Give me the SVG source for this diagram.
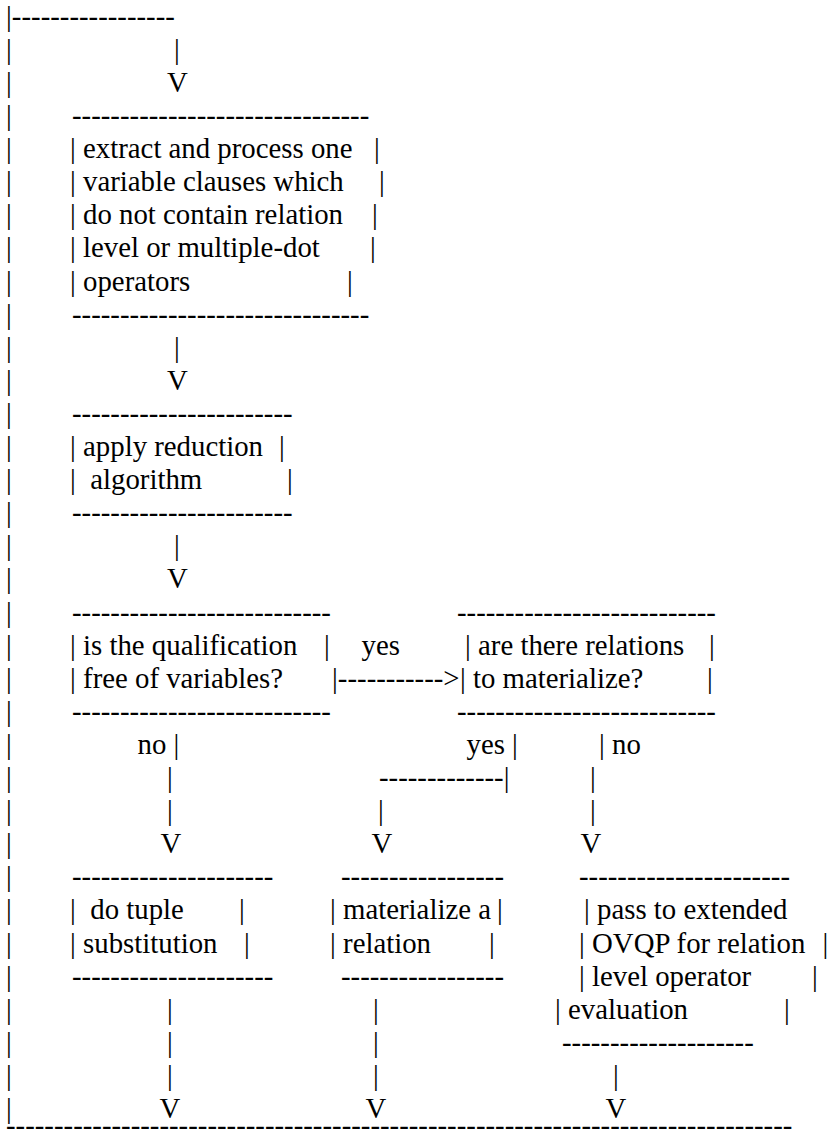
<svg xmlns="http://www.w3.org/2000/svg" width="829" height="1142" viewBox="0 0 829 1142" xml:space="preserve">
<style>
text{font-family:"Liberation Serif","Times New Roman",serif;font-size:28.8px;fill:#000;white-space:pre}
</style>
<rect width="829" height="1142" fill="#fff"/>
<g id="connectors">
<text x="6.1" y="25.7">|-----------------</text>
<text><tspan x="6.1" y="58.8">|</tspan><tspan x="6.1" y="91.9">|</tspan><tspan x="6.1" y="125">|</tspan><tspan x="6.1" y="158.1">|</tspan><tspan x="6.1" y="191.2">|</tspan><tspan x="6.1" y="224.3">|</tspan><tspan x="6.1" y="257.4">|</tspan><tspan x="6.1" y="290.5">|</tspan><tspan x="6.1" y="323.6">|</tspan><tspan x="6.1" y="356.7">|</tspan><tspan x="6.1" y="389.8">|</tspan><tspan x="6.1" y="422.9">|</tspan><tspan x="6.1" y="456">|</tspan><tspan x="6.1" y="489.1">|</tspan><tspan x="6.1" y="522.2">|</tspan><tspan x="6.1" y="555.3">|</tspan><tspan x="6.1" y="588.4">|</tspan><tspan x="6.1" y="621.5">|</tspan><tspan x="6.1" y="654.6">|</tspan><tspan x="6.1" y="687.7">|</tspan><tspan x="6.1" y="720.8">|</tspan><tspan x="6.1" y="753.9">|</tspan><tspan x="6.1" y="787">|</tspan><tspan x="6.1" y="820.1">|</tspan><tspan x="6.1" y="853.2">|</tspan><tspan x="6.1" y="886.3">|</tspan><tspan x="6.1" y="919.4">|</tspan><tspan x="6.1" y="952.5">|</tspan><tspan x="6.1" y="985.6">|</tspan><tspan x="6.1" y="1018.7">|</tspan><tspan x="6.1" y="1051.8">|</tspan><tspan x="6.1" y="1084.9">|</tspan><tspan x="6.1" y="1118">|</tspan></text>
<text x="6" y="1135">----------------------------------------------------------------------------------</text>
<text x="174.1" y="58.8">|</text>
<text x="167.1" y="91.9">V</text>
<text x="174.1" y="356.7">|</text>
<text x="167.1" y="389.8">V</text>
<text x="174.1" y="555.3">|</text>
<text x="167.1" y="588.4">V</text>
<text x="361.5" y="654.6">yes</text>
<text x="332.1" y="687.7">|-----------&gt;</text>
<text x="137.5" y="753.9">no |</text>
<text x="466.5" y="753.9">yes |</text>
<text x="599.1" y="753.9">| no</text>
<text x="167.1" y="787">|</text>
<text x="379" y="787">-------------|</text>
<text x="590.1" y="787">|</text>
<text x="167.1" y="820.1">|</text>
<text x="378.1" y="820.1">|</text>
<text x="590.1" y="820.1">|</text>
<text x="160.6" y="853.2">V</text>
<text x="371.6" y="853.2">V</text>
<text x="580.6" y="853.2">V</text>
<text x="167.1" y="1018.7">|</text>
<text x="373.1" y="1018.7">|</text>
<text x="167.1" y="1051.8">|</text>
<text x="373.1" y="1051.8">|</text>
<text x="167.1" y="1084.9">|</text>
<text x="373.1" y="1084.9">|</text>
<text x="613.1" y="1084.9">|</text>
<text x="159.6" y="1118">V</text>
<text x="365.6" y="1118">V</text>
<text x="605.6" y="1118">V</text>
</g>
<g id="extract">
<text x="72" y="125">-------------------------------</text>
<text x="70.1" y="158.1">| extract and process one</text><text x="374.1" y="158.1">|</text>
<text x="70.1" y="191.2">| variable clauses which</text><text x="379.1" y="191.2">|</text>
<text x="70.1" y="224.3">| do not contain relation</text><text x="372.1" y="224.3">|</text>
<text x="70.1" y="257.4">| level or multiple-dot</text><text x="370.1" y="257.4">|</text>
<text x="70.1" y="290.5">| operators</text><text x="347.1" y="290.5">|</text>
<text x="72" y="323.6">-------------------------------</text>
</g>
<g id="reduction">
<text x="72" y="422.9">-----------------------</text>
<text x="70.1" y="456">| apply reduction</text><text x="279" y="456">|</text>
<text x="70.1" y="489.1">|  algorithm</text><text x="287" y="489.1">|</text>
<text x="72" y="522.2">-----------------------</text>
</g>
<g id="qualification">
<text x="72" y="621.5">---------------------------</text>
<text x="70.1" y="654.6">| is the qualification</text><text x="324.1" y="654.6">|</text>
<text x="70.1" y="687.7">| free of variables?</text>
<text x="72" y="720.8">---------------------------</text>
</g>
<g id="relations">
<text x="457" y="621.5">---------------------------</text>
<text x="465.1" y="654.6">| are there relations</text><text x="709.1" y="654.6">|</text>
<text x="460" y="687.7">| to materialize?</text><text x="707.1" y="687.7">|</text>
<text x="457" y="720.8">---------------------------</text>
</g>
<g id="tuple-substitution">
<text x="72" y="886.3">---------------------</text>
<text x="70.1" y="919.4">|  do tuple</text><text x="239.1" y="919.4">|</text>
<text x="70.1" y="952.5">| substitution</text><text x="244.1" y="952.5">|</text>
<text x="72" y="985.6">---------------------</text>
</g>
<g id="materialize">
<text x="341" y="886.3">-----------------</text>
<text x="330.1" y="919.4">| materialize a</text><text x="497.1" y="919.4">|</text>
<text x="330.1" y="952.5">| relation</text><text x="489.1" y="952.5">|</text>
<text x="341" y="985.6">-----------------</text>
</g>
<g id="ovqp">
<text x="579" y="886.3">----------------------</text>
<text x="584.1" y="919.4">| pass to extended</text>
<text x="579.1" y="952.5">| OVQP for relation</text><text x="822.5" y="952.5">|</text>
<text x="579.1" y="985.6">| level operator</text><text x="812.1" y="985.6">|</text>
<text x="555.1" y="1018.7">| evaluation</text><text x="784.1" y="1018.7">|</text>
<text x="562" y="1051.8">--------------------</text>
</g>
</svg>
